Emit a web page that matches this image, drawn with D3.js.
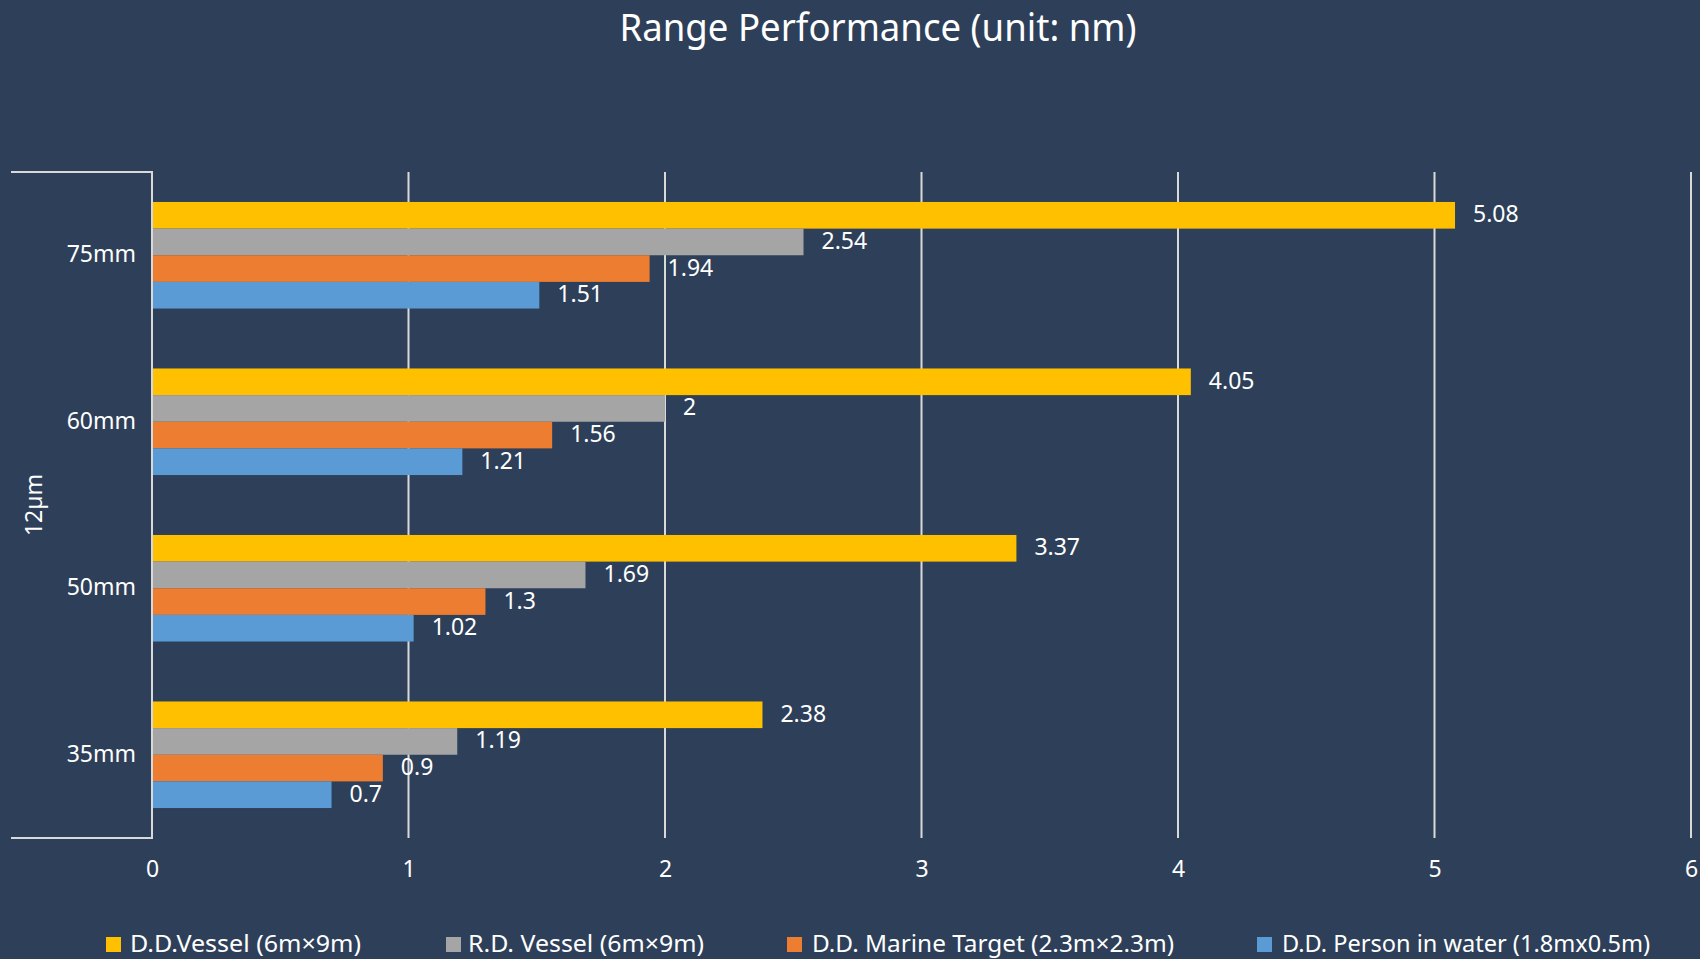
<!DOCTYPE html>
<html>
<head>
<meta charset="utf-8">
<script src="https://cdn.jsdelivr.net/npm/d3@7"></script>
<style>
  html, body { margin: 0; padding: 0; background: #2E4059; }
  svg { display: block; }
  text { font-family: "Noto Sans", "Open Sans", sans-serif; fill: #ffffff; }
</style>
</head>
<body>
<svg id="chart" width="1700" height="959"></svg>
<script>
const categories = ["75mm", "60mm", "50mm", "35mm"];
const groupLabel = "12µm";
const seriesNames = [
  "D.D.Vessel (6m×9m)",
  "R.D. Vessel (6m×9m)",
  "D.D. Marine Target (2.3m×2.3m)",
  "D.D. Person in water (1.8mx0.5m)"
];
const ddVessel     = [5.08, 4.05, 3.37, 2.38];
const rdVessel     = [2.54, 2.00, 1.69, 1.19];
const ddMarine     = [1.94, 1.56, 1.30, 0.90];
const ddPerson     = [1.51, 1.21, 1.02, 0.70];
const tickValues = [0, 1, 2, 3, 4, 5, 6];
const title = "Range Performance (unit: nm)";

const colors = ["#FFC000", "#A5A5A5", "#ED7D31", "#5B9BD5"];
const seriesValues = [ddVessel, rdVessel, ddMarine, ddPerson];

const svg = d3.select("#chart");
const W = 1700, H = 959;
svg.append("rect").attr("width", W).attr("height", H).attr("fill", "#2E4059");

const x = d3.scaleLinear().domain([0, 6]).range([152, 1691]);
const y = d3.scaleBand().domain(categories).range([172, 838]).paddingInner(0.36).paddingOuter(0.18);
const ys = d3.scaleBand().domain(d3.range(seriesNames.length)).range([0, y.bandwidth()]);

function fit(sel, target) {
  sel.each(function() {
    const w = this.getComputedTextLength();
    if (w > 0 && Math.abs(w - target) > 2) {
      d3.select(this).attr("textLength", target).attr("lengthAdjust", "spacingAndGlyphs");
    }
  });
}

// gridlines
const grid = svg.append("g");
grid.selectAll("line").data(tickValues.slice(1)).join("line")
  .attr("x1", d => x(d)).attr("x2", d => x(d))
  .attr("y1", 172).attr("y2", 838)
  .attr("stroke", "#D9D9D9").attr("stroke-width", 2);

// bars
const rows = categories.map((c, i) => ({ cat: c, vals: seriesValues.map(s => s[i]) }));
const groups = svg.append("g").selectAll("g").data(rows).join("g")
  .attr("transform", d => `translate(0,${y(d.cat)})`);
groups.selectAll("rect").data(d => d.vals.map((v, k) => ({ v, k }))).join("rect")
  .attr("x", x(0)).attr("y", d => ys(d.k))
  .attr("width", d => x(d.v) - x(0)).attr("height", ys.bandwidth())
  .attr("fill", d => colors[d.k]);
groups.selectAll("text").data(d => d.vals.map((v, k) => ({ v, k }))).join("text")
  .attr("x", d => x(d.v) + 18).attr("y", d => ys(d.k) + ys.bandwidth() / 2 - 2)
  .attr("dominant-baseline", "central")
  .attr("font-size", 23)
  .text(d => d3.format("")(d.v));

// axis frame (multi-level category axis)
const frame = svg.append("g").attr("stroke", "#D9D9D9").attr("stroke-width", 2).attr("fill", "none");
frame.append("line").attr("x1", x(0)).attr("x2", x(0)).attr("y1", 172).attr("y2", 839);
frame.append("line").attr("x1", 11).attr("x2", x(0) + 1).attr("y1", 172).attr("y2", 172);
frame.append("line").attr("x1", 11).attr("x2", x(0) + 1).attr("y1", 838).attr("y2", 838);

// category labels
svg.append("g").selectAll("text").data(categories).join("text")
  .attr("x", 136).attr("y", d => y(d) + y.bandwidth() / 2 - 2)
  .attr("text-anchor", "end").attr("dominant-baseline", "central")
  .attr("font-size", 23).text(d => d);

svg.append("text")
  .attr("transform", "translate(33,505) rotate(-90)")
  .attr("text-anchor", "middle").attr("dominant-baseline", "central")
  .attr("font-size", 23).text(groupLabel);

// x axis tick labels
const xAxis = d3.axisBottom(x).tickValues(tickValues).tickSize(0).tickFormat(d3.format("d"));
const ax = svg.append("g").attr("transform", "translate(0,858)").call(xAxis);
ax.select(".domain").remove();
ax.selectAll("text").attr("font-size", 23).attr("fill", "#ffffff")
  .style("font-family", "'Noto Sans', sans-serif");

// title
svg.append("text").attr("x", 878).attr("y", 26)
  .attr("text-anchor", "middle").attr("dominant-baseline", "central")
  .attr("font-size", 38).text(title).call(fit, 517);

// legend
const legendPos = [
  { sq: 106, tx: 130, w: 231 },
  { sq: 446, tx: 468, w: 236 },
  { sq: 787, tx: 812, w: 362 },
  { sq: 1257, tx: 1282, w: 368 }
];
const lg = svg.append("g");
seriesNames.forEach((name, i) => {
  lg.append("rect").attr("x", legendPos[i].sq).attr("y", 937)
    .attr("width", 15).attr("height", 15).attr("fill", colors[i]);
  lg.append("text").attr("x", legendPos[i].tx).attr("y", 943)
    .attr("dominant-baseline", "central").attr("font-size", 23)
    .text(name).call(fit, legendPos[i].w);
});
</script>
</body>
</html>
